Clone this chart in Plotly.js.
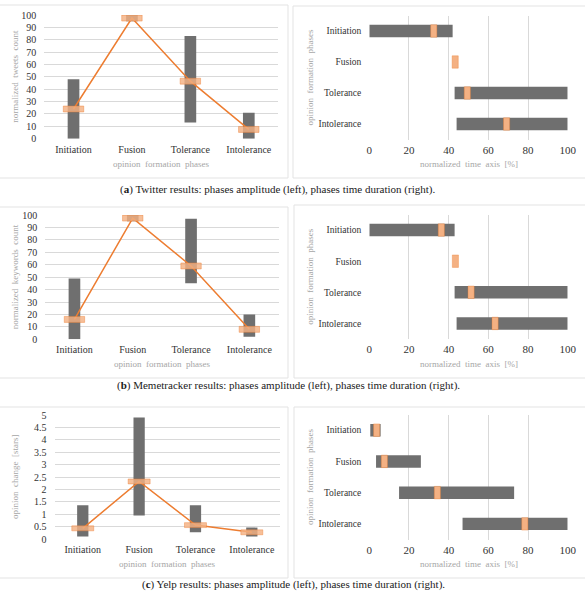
<!DOCTYPE html>
<html>
<head>
<meta charset="utf-8">
<script src="https://cdn.plot.ly/plotly-3.0.1.min.js"></script>
<style>html,body{margin:0;padding:0;background:#fff}#chart{width:585px;height:591px}</style>
</head>
<body>
<div id="chart"></div>
<script>
// ---------- data ----------
const phases = ['Initiation', 'Fusion', 'Tolerance', 'Intolerance'];

// (a) Twitter
const twitterAmpMin  = [0, 95, 13, 0];
const twitterAmpMax  = [48, 100, 83, 21];
const twitterAmpMean = [24, 97.5, 46.5, 7.5];
const twitterDurStart = [0, null, 43, 44];
const twitterDurEnd   = [42, null, 100, 100];
const twitterDurPeak  = [32.5, 43.3, 49.4, 69.2];

// (b) Memetracker
const memeAmpMin  = [0, 95, 45, 2];
const memeAmpMax  = [49, 100, 97, 20];
const memeAmpMean = [16, 97.5, 59, 8];
const memeDurStart = [0, null, 43, 44];
const memeDurEnd   = [43, null, 100, 100];
const memeDurPeak  = [36.3, 43.4, 51.3, 63.4];

// (c) Yelp
const yelpAmpMin  = [0.1, 0.95, 0.27, 0.1];
const yelpAmpMax  = [1.36, 4.9, 1.36, 0.46];
const yelpAmpMean = [0.43, 2.32, 0.56, 0.27];
const yelpDurStart = [0.5, 3.4, 15, 47];
const yelpDurEnd   = [5.7, 26, 73, 100];
const yelpDurPeak  = [3.7, 7.6, 34.3, 78.4];

const captions = [
  '(<b>a</b>) Twitter results: phases amplitude (left), phases time duration (right).',
  '(<b>b</b>) Memetracker results: phases amplitude (left), phases time duration (right).',
  '(<b>c</b>) Yelp results: phases amplitude (left), phases time duration (right).'
];
const ampTitles = ['normalized\u00a0 tweets\u00a0 count', 'normalized\u00a0 keywords\u00a0 count', 'opinion\u00a0 change\u00a0 [stars]'];
const phaseTitle = 'opinion\u00a0 formation\u00a0 phases';
const timeTitle = 'normalized\u00a0 time\u00a0 axis\u00a0 [%]';

// ---------- styling / layout ----------
const W = 585, H = 591;
const fx = p => p / W;
const fy = p => 1 - p / H;
const FONT = '"Liberation Serif", "Times New Roman", serif';
const GRAY = '#6F6F6F';
const ORANGE = '#ED7D31';
const ORANGE_FILL = 'rgba(244,177,131,0.82)';
const GRID = '#D9D9D9';
const TICK = '#333333';
const TITLE = '#A6A6A6';

const panels = [
  {amp: [twitterAmpMin, twitterAmpMax, twitterAmpMean], dur: [twitterDurStart, twitterDurEnd, twitterDurPeak],
   yMax: 100, dtick: 10, markH: 4.8, markW: 0.35,
   L: {x: [44.3, 278], y: [15, 138.7]}, R: {x: [369.3, 567.7], y: [15.5, 139.5]},
   box: {l: [-2, 288, 5, 178], r: [293, 590, 6, 178]}, capY: 190, capX: 277, xTitY: 164},
  {amp: [memeAmpMin, memeAmpMax, memeAmpMean], dur: [memeDurStart, memeDurEnd, memeDurPeak],
   yMax: 100, dtick: 10, markH: 4.8, markW: 0.35,
   L: {x: [45.3, 278.5], y: [215, 339.3]}, R: {x: [369.3, 567.7], y: [214.5, 339]},
   box: {l: [-2, 288, 207, 378], r: [294, 590, 205, 378]}, capY: 385, capX: 288, xTitY: 364},
  {amp: [yelpAmpMin, yelpAmpMax, yelpAmpMean], dur: [yelpDurStart, yelpDurEnd, yelpDurPeak],
   yMax: 5, dtick: 0.5, markH: 0.2, markW: 0.39,
   L: {x: [54.6, 280], y: [415, 539]}, R: {x: [369.3, 567.7], y: [414.5, 539.5]},
   box: {l: [-2, 288, 407, 578], r: [294, 590, 407, 578]}, capY: 584.5, capX: 293, xTitY: 564}
];

const traces = [];
const layout = {
  width: W, height: H,
  margin: {l: 0, r: 0, t: 0, b: 0},
  paper_bgcolor: '#fff', plot_bgcolor: 'rgba(0,0,0,0)',
  showlegend: false, barmode: 'overlay',
  font: {family: FONT, color: TICK, size: 10},
  shapes: [], annotations: []
};

panels.forEach((p, i) => {
  const [aMin, aMax, aMean] = p.amp;
  const [dStart, dEnd, dPeak] = p.dur;
  const nL = 3 * i + 1, nO = 3 * i + 2, nR = 3 * i + 3;
  const xs = k => 'x' + (k === 1 ? '' : k), ys = k => 'y' + (k === 1 ? '' : k);
  const xa = k => 'xaxis' + (k === 1 ? '' : k), ya = k => 'yaxis' + (k === 1 ? '' : k);

  // left: amplitude range bars + mean line
  traces.push({type: 'bar', x: phases, base: aMin, y: aMax.map((v, j) => v - aMin[j]),
    width: 0.2, marker: {color: GRAY, line: {width: 0}}, xaxis: xs(nL), yaxis: ys(nL), hoverinfo: 'skip'});
  traces.push({type: 'scatter', mode: 'lines', x: phases, y: aMean,
    line: {color: ORANGE, width: 1.5}, xaxis: xs(nL), yaxis: ys(nL), hoverinfo: 'skip'});
  // overlay: mean markers (drawn above the line)
  traces.push({type: 'bar', x: phases, base: aMean.map(v => v - p.markH / 2), y: aMean.map(() => p.markH),
    width: p.markW, marker: {color: ORANGE_FILL, line: {color: 'rgba(237,125,49,0.7)', width: 0.6}},
    xaxis: xs(nO), yaxis: ys(nO), hoverinfo: 'skip'});

  // right: duration bars + peak marks
  traces.push({type: 'bar', orientation: 'h', y: phases, base: dStart,
    x: dEnd.map((v, j) => (v === null ? null : v - dStart[j])),
    width: 0.4, marker: {color: GRAY, line: {width: 0}}, xaxis: xs(nR), yaxis: ys(nR), hoverinfo: 'skip'});
  traces.push({type: 'bar', orientation: 'h', y: phases, base: dPeak.map(v => v - 1.55), x: dPeak.map(() => 3.1),
    width: 0.4, marker: {color: '#F4B183', line: {color: 'rgba(237,125,49,0.6)', width: 0.6}},
    xaxis: xs(nR), yaxis: ys(nR), hoverinfo: 'skip'});

  // axes
  layout[xa(nL)] = {domain: [fx(p.L.x[0]), fx(p.L.x[1])], anchor: ys(nL), type: 'category',
    categoryorder: 'array', categoryarray: phases, range: [-0.5, 3.5],
    showgrid: false, zeroline: false, showline: false, ticks: '', tickfont: {size: 10, color: TICK},
    ticklabelstandoff: 3, fixedrange: true};
  layout[ya(nL)] = {domain: [fy(p.L.y[1]), fy(p.L.y[0])], anchor: xs(nL), range: [0, p.yMax], dtick: p.dtick,
    showgrid: true, gridcolor: GRID, gridwidth: 1, zeroline: false, showline: false, ticks: '',
    tickfont: {size: 10, color: TICK}, ticklabelstandoff: 7, fixedrange: true};
  layout[xa(nO)] = {overlaying: xs(nL), anchor: ys(nO), type: 'category', categoryorder: 'array',
    categoryarray: phases, range: [-0.5, 3.5], visible: false, fixedrange: true};
  layout[ya(nO)] = {overlaying: ys(nL), anchor: xs(nO), range: [0, p.yMax], visible: false, fixedrange: true};
  layout[xa(nR)] = {domain: [fx(p.R.x[0]), fx(p.R.x[1])], anchor: ys(nR), range: [0, 100], dtick: 20,
    showgrid: true, gridcolor: GRID, gridwidth: 1, zeroline: false, showline: false, ticks: '',
    tickfont: {size: 11, color: TICK}, ticklabelstandoff: 2, fixedrange: true};
  layout[ya(nR)] = {domain: [fy(p.R.y[1]), fy(p.R.y[0])], anchor: xs(nR), type: 'category',
    categoryorder: 'array', categoryarray: phases, range: [3.5, -0.5],
    showgrid: false, zeroline: false, showline: false, ticks: '', tickfont: {size: 9.5, color: TICK},
    ticklabelstandoff: 7, fixedrange: true};

  // panel frames
  [p.box.l, p.box.r].forEach(b => layout.shapes.push({type: 'rect', xref: 'paper', yref: 'paper',
    x0: fx(b[0]), x1: fx(b[1]), y0: fy(b[3]), y1: fy(b[2]), line: {color: '#E3E3E3', width: 1}, layer: 'below'}));

  // axis titles
  const ann = (text, x, y, angle) => layout.annotations.push({text, xref: 'paper', yref: 'paper',
    x: fx(x), y: fy(y), xanchor: 'center', yanchor: 'middle', showarrow: false, textangle: angle || 0,
    font: {size: 9, color: TITLE, family: FONT}});
  ann(ampTitles[i], 15, (p.L.y[0] + p.L.y[1]) / 2, -90);
  ann(phaseTitle, (p.L.x[0] + p.L.x[1]) / 2, p.xTitY);
  ann(phaseTitle, 310, (p.R.y[0] + p.R.y[1]) / 2, -90);
  ann(timeTitle, (p.R.x[0] + p.R.x[1]) / 2, p.xTitY);

  // caption
  layout.annotations.push({text: captions[i], xref: 'paper', yref: 'paper', x: fx(p.capX), y: fy(p.capY),
    xanchor: 'center', yanchor: 'middle', showarrow: false, font: {size: 11, color: '#1a1a1a', family: FONT}});
});

Plotly.newPlot('chart', traces, layout, {staticPlot: true, displayModeBar: false});
</script>
</body>
</html>
